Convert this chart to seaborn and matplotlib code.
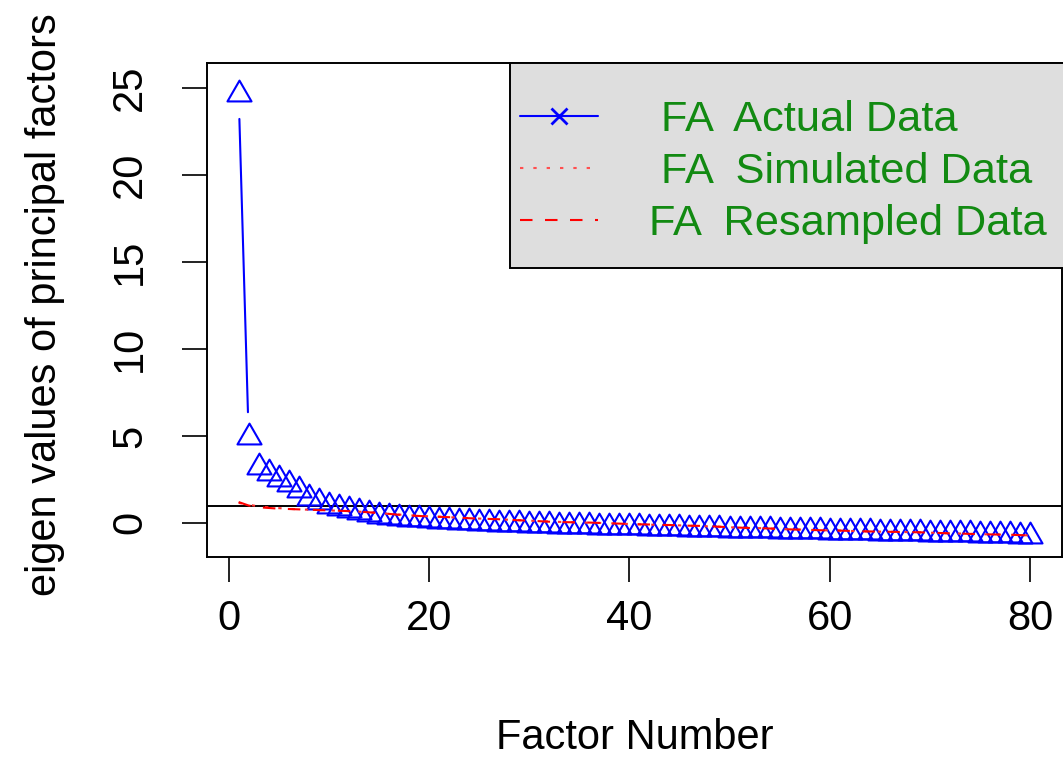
import numpy as np
import pandas as pd
import matplotlib
matplotlib.use("Agg")
import matplotlib.pyplot as plt
from matplotlib.path import Path
from matplotlib.lines import Line2D
from matplotlib.patches import Rectangle
import seaborn as sns

# ---------------- data ----------------
factors = list(range(1, 81))
actual = [24.67, 4.93, 3.22, 2.86, 2.55, 2.22, 1.87, 1.45, 1.20, 1.00,
          0.85, 0.72, 0.60, 0.50, 0.42, 0.35, 0.30, 0.25, 0.20, 0.15,
          0.12, 0.09, 0.06, 0.03, 0.01, -0.02, -0.05, -0.07, -0.09, -0.11,
          -0.12, -0.14, -0.15, -0.17, -0.18, -0.20, -0.21, -0.22, -0.24, -0.25,
          -0.26, -0.28, -0.29, -0.30, -0.32, -0.33, -0.34, -0.35, -0.37, -0.38,
          -0.39, -0.40, -0.41, -0.43, -0.44, -0.45, -0.46, -0.47, -0.48, -0.50,
          -0.51, -0.52, -0.53, -0.55, -0.56, -0.57, -0.58, -0.59, -0.60, -0.61,
          -0.63, -0.64, -0.65, -0.66, -0.68, -0.69, -0.71, -0.72, -0.74, -0.77]
simulated = [1.15, 1.05, 0.95, 0.90, 0.85, 0.81, 0.78, 0.76, 0.74, 0.72,
             0.70, 0.68, 0.65, 0.61, 0.57, 0.52, 0.48, 0.44, 0.41, 0.38,
             0.36, 0.33, 0.30, 0.28, 0.25, 0.23, 0.21, 0.18, 0.16, 0.13,
             0.11, 0.08, 0.06, 0.04, 0.03, 0.01, 0.00, -0.02, -0.04, -0.06,
             -0.08, -0.10, -0.11, -0.13, -0.14, -0.16, -0.18, -0.20, -0.22, -0.25,
             -0.27, -0.29, -0.30, -0.32, -0.35, -0.37, -0.38, -0.40, -0.42, -0.43,
             -0.44, -0.46, -0.48, -0.49, -0.50, -0.51, -0.52, -0.53, -0.54, -0.56,
             -0.58, -0.60, -0.61, -0.63, -0.65, -0.66, -0.67, -0.68, -0.70, -0.72]
resampled = [1.20, 1.00, 0.90, 0.86, 0.82, 0.80, 0.78, 0.76, 0.74, 0.72,
             0.70, 0.68, 0.65, 0.61, 0.57, 0.52, 0.47, 0.43, 0.40, 0.37,
             0.35, 0.33, 0.30, 0.27, 0.25, 0.23, 0.21, 0.18, 0.15, 0.13,
             0.10, 0.07, 0.05, 0.04, 0.03, 0.02, 0.00, -0.02, -0.04, -0.06,
             -0.08, -0.09, -0.11, -0.12, -0.14, -0.16, -0.17, -0.19, -0.22, -0.25,
             -0.27, -0.29, -0.30, -0.32, -0.35, -0.37, -0.39, -0.40, -0.42, -0.43,
             -0.44, -0.46, -0.48, -0.49, -0.50, -0.51, -0.52, -0.53, -0.54, -0.56,
             -0.58, -0.60, -0.61, -0.63, -0.65, -0.66, -0.67, -0.68, -0.70, -0.72]
legend_labels = [" FA  Actual Data", " FA  Simulated Data", "FA  Resampled Data"]
x_ticks = [0, 20, 40, 60, 80]
y_ticks = [0, 5, 10, 15, 20, 25]
ref_line = 1

df = pd.DataFrame({"factor": factors, "actual": actual,
                   "simulated": simulated, "resampled": resampled})

# ---------------- style ----------------
sns.set_theme(style="white")
plt.rcParams["font.family"] = ["Liberation Sans", "DejaVu Sans"]
FS = 30
LFS = 31.2

W, H = 1063, 758
fig = plt.figure(figsize=(W / 100, H / 100), dpi=100)
ax_l, ax_r, ax_t, ax_b = 207, 1061.7, 63, 557
ax = fig.add_axes([ax_l / W, 1 - ax_b / H, (ax_r - ax_l) / W, (ax_b - ax_t) / H])

xpad = 0.04 * (max(factors) - min(factors))
ax.set_xlim(min(factors) - xpad, max(factors) + xpad)
ax.set_ylim(-1.96, 26.45)

# R-like triangle (centroid at the data point)
tri = Path([(0, 1), (-0.866, -0.5), (0.866, -0.5), (0, 1)],
           [Path.MOVETO, Path.LINETO, Path.LINETO, Path.CLOSEPOLY])

sns.lineplot(data=df, x="factor", y="actual", ax=ax, linestyle="",
             marker=tri, markersize=20, markerfacecolor="none",
             markeredgecolor="#0000FF", markeredgewidth=1.5, zorder=3)

sns.lineplot(data=df, x="factor", y="simulated", ax=ax, color="#FF3030",
             linewidth=1.5, dashes=(1.6, 4.8), zorder=4)
sns.lineplot(data=df, x="factor", y="resampled", ax=ax, color="#FF0000",
             linewidth=1.5, dashes=(6, 6), zorder=4)

ax.axhline(ref_line, color="black", linewidth=1.4, zorder=2)

# axes styling
for s in ax.spines.values():
    s.set_color("black")
    s.set_linewidth(1.4)
ax.set_xticks(x_ticks)
ax.set_yticks(y_ticks)
ax.tick_params(axis="both", direction="out", length=18, width=1.4,
               color="#222222", labelsize=FS, labelcolor="black")
ax.tick_params(axis="x", pad=12, bottom=True)
ax.tick_params(axis="y", pad=23, left=True, labelrotation=90)
for lab in ax.get_yticklabels():
    lab.set_verticalalignment("center")

ax.set_xlabel("Factor Number", fontsize=FS, color="black")
ax.set_ylabel("eigen values of principal factors", fontsize=FS, color="black")
ax.xaxis.set_label_coords(0.5, -0.326)
ax.yaxis.set_label_coords(-0.166, 0.51)

# R "type b" connecting line: segments with gaps around the points
fig.canvas.draw()
trans = ax.transData
inv = trans.inverted()
pts = trans.transform(np.column_stack([factors, actual]))
gap = 25.0
sx, sy = [], []
for p0, p1 in zip(pts[:-1], pts[1:]):
    d = p1 - p0
    L = float(np.hypot(d[0], d[1]))
    if L > 2 * gap:
        u = d / L
        a = inv.transform(p0 + gap * u)
        b = inv.transform(p1 - gap * u)
        sx += [a[0], b[0], np.nan]
        sy += [a[1], b[1], np.nan]
ax.plot(sx, sy, color="#0000FF", linewidth=1.5, zorder=3)

# legend box
fig.add_artist(Rectangle((510 / W, 1 - 268 / H), (1075 - 510) / W, (268 - 63) / H,
                         transform=fig.transFigure, facecolor="#DEDEDE",
                         edgecolor="black", linewidth=1.4, zorder=5))
handles = [
    Line2D([], [], color="#0000FF", linewidth=1.5, marker="x", markersize=11,
           markeredgewidth=2),
    Line2D([], [], color="#FF5050", linewidth=1.5, dashes=(1.6, 4.8)),
    Line2D([], [], color="#FF0000", linewidth=1.5, dashes=(6, 6)),
]
leg = fig.legend(handles, legend_labels, loc="upper left",
                 bbox_to_anchor=(520 / W, 1 - 100 / H),
                 bbox_transform=fig.transFigure, frameon=False,
                 fontsize=LFS, borderpad=0, borderaxespad=0,
                 handlelength=1.8, handletextpad=1.17, labelspacing=0.28,
                 labelcolor="#128A12")
leg.set_zorder(6)

fig.savefig("out.png", dpi=100)
